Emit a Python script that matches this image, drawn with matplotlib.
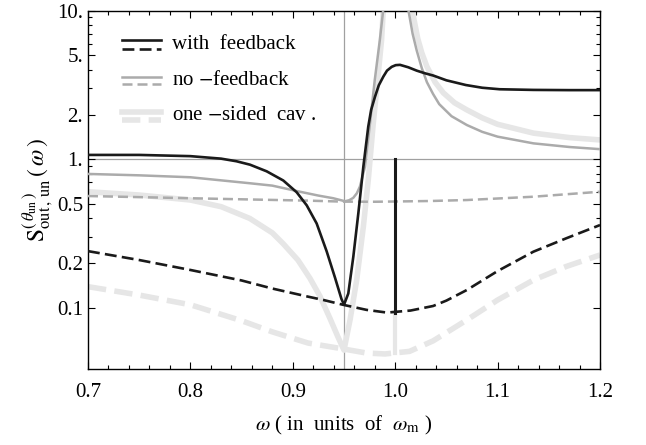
import matplotlib
matplotlib.use('Agg')
import matplotlib.pyplot as plt
import numpy as np

plt.rcParams['font.family'] = ['Liberation Serif', 'DejaVu Serif']
plt.rcParams['mathtext.fontset'] = 'stix'

# with feedback, solid
fb_x = [0.70, 0.75, 0.80, 0.83, 0.845, 0.8582, 0.8745, 0.8907, 0.9038, 0.9136, 0.9233, 0.9331,
        0.9412, 0.9475, 0.9500, 0.9542, 0.9591, 0.964, 0.9689, 0.9737, 0.9765, 0.9803, 0.984,
        0.9884, 0.992, 0.9966, 1.0005, 1.0047, 1.0128, 1.021, 1.0291, 1.0372, 1.050, 1.069,
        1.085, 1.102, 1.135, 1.17, 1.20]
fb_y = [1.07, 1.07, 1.05, 1.01, 0.97, 0.92, 0.83, 0.72, 0.60, 0.49, 0.37, 0.24,
        0.16, 0.115, 0.105, 0.125, 0.221, 0.433, 0.892, 1.66, 2.15, 2.64, 3.15,
        3.6, 3.95, 4.19, 4.30, 4.32, 4.16, 3.95, 3.79, 3.66, 3.40, 3.16,
        3.03, 2.96, 2.93, 2.92, 2.92]

# with feedback, dashed
fbd_x = [0.70, 0.75, 0.80, 0.85, 0.88, 0.915, 0.93, 0.949, 0.972, 0.992, 1.015, 1.037, 1.05,
         1.07, 1.10, 1.135, 1.167, 1.20]
fbd_y = [0.241, 0.21, 0.18, 0.153, 0.135, 0.119, 0.113, 0.105, 0.097, 0.093, 0.096, 0.103, 0.112,
         0.132, 0.177, 0.239, 0.294, 0.361]

# no feedback, solid
nf_x = [0.70, 0.75, 0.80, 0.858, 0.88, 0.907, 0.925, 0.9395, 0.951, 0.955, 0.959, 0.9625, 0.9655,
        0.9705, 0.9754, 0.980, 0.985, 0.9895, np.nan,
        1.0115, 1.013, 1.017, 1.021, 1.026, 1.031, 1.037, 1.043, 1.055, 1.07, 1.085, 1.10,
        1.135, 1.17, 1.20]
nf_y = [0.797, 0.78, 0.757, 0.69, 0.665, 0.605, 0.57, 0.547, 0.522, 0.53, 0.55, 0.59, 0.654,
        0.892, 1.75, 3.4, 6.35, 12.0, np.nan,
        14.0, 10.0, 7.0, 5.4, 4.1, 3.3, 2.75, 2.35, 1.95, 1.70, 1.53, 1.42,
        1.28, 1.21, 1.17]

# no feedback, dashed
nfd_x = [0.70, 0.80, 0.85, 0.915, 0.949, 0.98, 1.00, 1.034, 1.07, 1.135, 1.20]
nfd_y = [0.566, 0.547, 0.538, 0.527, 0.519, 0.518, 0.52, 0.524, 0.532, 0.56, 0.605]

# one-sided cavity, solid
os_x = [0.70, 0.75, 0.80, 0.83, 0.858, 0.88, 0.8907, 0.905, 0.9168, 0.9265, 0.9363, 0.944, 0.950,
        0.9559, 0.9624, 0.9689, 0.9737, 0.9786, 0.9835, 0.9867, 0.989, np.nan,
        1.016, 1.018, 1.022, 1.026, 1.031, 1.039, 1.047, 1.058, 1.07, 1.085, 1.10, 1.135, 1.17, 1.20]
os_y = [0.605, 0.575, 0.532, 0.48, 0.40, 0.32, 0.27, 0.21, 0.158, 0.12, 0.085, 0.064, 0.052,
        0.083, 0.154, 0.352, 0.726, 1.75, 3.79, 6.35, 12.0, np.nan,
        14.0, 9.0, 6.5, 5.2, 4.2, 3.3, 2.8, 2.4, 2.15, 1.9, 1.72, 1.50, 1.40, 1.35]

# one-sided cavity, dashed
osd_x = [0.70, 0.75, 0.80, 0.85, 0.88, 0.915, 0.949, 0.972, 0.99, 1.014, 1.037, 1.07, 1.10,
         1.135, 1.167, 1.20]
osd_y = [0.139, 0.122, 0.105, 0.082, 0.069, 0.058, 0.053, 0.0497, 0.049, 0.051, 0.060, 0.083,
         0.113, 0.154, 0.19, 0.227]

# narrow spikes at omega = 1
spike_x = [1.0, 1.0]
spike_fb = [0.093, 1.0]
spike_os = [0.050, 0.093]

y_major = [0.1, 0.2, 0.5, 1, 2, 5, 10]
y_major_labels = ['0.1', '0.2', '0.5', '1.', '2.', '5.', '10.']
y_minor = [0.3, 0.4, 0.6, 0.7, 0.8, 0.9, 3, 4, 6, 7, 8, 9]
x_major = [0.7, 0.8, 0.9, 1.0, 1.1, 1.2]
x_major_labels = ['0.7', '0.8', '0.9', '1.0', '1.1', '1.2']

BLACK = '#1a1a1a'
GRAY = '#ababab'
LIGHT = '#e6e6e6'

fig = plt.figure(figsize=(6.46, 4.45), dpi=100)
ax = fig.add_axes([0.1362, 0.1715, 0.7926, 0.8045])

ax.axhline(1.0, color='#a0a0a0', lw=0.9, zorder=1)
ax.axvline(0.95, color='#a0a0a0', lw=0.9, zorder=1)

ax.plot(osd_x, osd_y, color=LIGHT, lw=4.0, dashes=(3.3, 1.5), zorder=2)
ax.plot(os_x, os_y, color=LIGHT, lw=4.0, zorder=2)
ax.plot(spike_x, spike_os, color=LIGHT, lw=3.0, zorder=2)
ax.plot(nfd_x, nfd_y, color=GRAY, lw=1.8, dashes=(4, 2), zorder=3)
ax.plot(nf_x, nf_y, color=GRAY, lw=1.8, zorder=3)
ax.plot(fbd_x, fbd_y, color=BLACK, lw=1.9, dashes=(4.5, 2), zorder=4)
ax.plot(fb_x, fb_y, color=BLACK, lw=1.9, zorder=4)
ax.plot(spike_x, spike_fb, color=BLACK, lw=2.2, zorder=4)

ax.set_yscale('log')
ax.set_xlim(0.7, 1.2)
ax.set_ylim(0.039, 10)
ax.set_yticks(y_major)
ax.set_yticklabels(y_major_labels)
ax.set_yticks(y_minor, minor=True)
ax.set_yticklabels([], minor=True)
ax.set_xticks(x_major)
ax.set_xticklabels(x_major_labels)
ax.set_xticks(np.arange(0.72, 1.2, 0.02), minor=True)

ax.tick_params(which='both', direction='in', top=True, right=True, labelsize=15, width=0.8)
ax.tick_params(which='major', length=5)
ax.tick_params(which='minor', length=3)
ax.tick_params(axis='x', pad=10)
for s in ax.spines.values():
    s.set_linewidth(1.0)

ax.set_xlabel(r'$\omega$ ( in  units  of  $\omega_{\mathrm{m}}$ )', fontsize=15, labelpad=9)
ax.set_ylabel(r'$\mathrm{S}_{\mathrm{out\,,\,un}}^{(\,\theta_{\mathrm{un}}\,)}\,(\,\omega\,)$',
              fontsize=17, labelpad=1)

# legend drawn by hand: solid over dashed
legend = [
    ('with  feedback', BLACK, 1.9, (4.5, 2), 0.917, 0.893),
    ('no $-$feedback', GRAY, 1.8, (4, 2), 0.816, 0.794),
    ('one $-$sided  cav .', LIGHT, 4.0, (3.3, 1.5), 0.716, 0.696),
]
for label, c, lw, d, ys, yd in legend:
    ax.plot([0.066, 0.143], [ys, ys], color=c, lw=lw, transform=ax.transAxes)
    ax.plot([0.066, 0.143], [yd, yd], color=c, lw=lw, dashes=d, transform=ax.transAxes)
    ax.text(0.165, (ys + yd) / 2, label, fontsize=15, va='center', ha='left',
            transform=ax.transAxes)

fig.savefig('out.png', dpi=100)
